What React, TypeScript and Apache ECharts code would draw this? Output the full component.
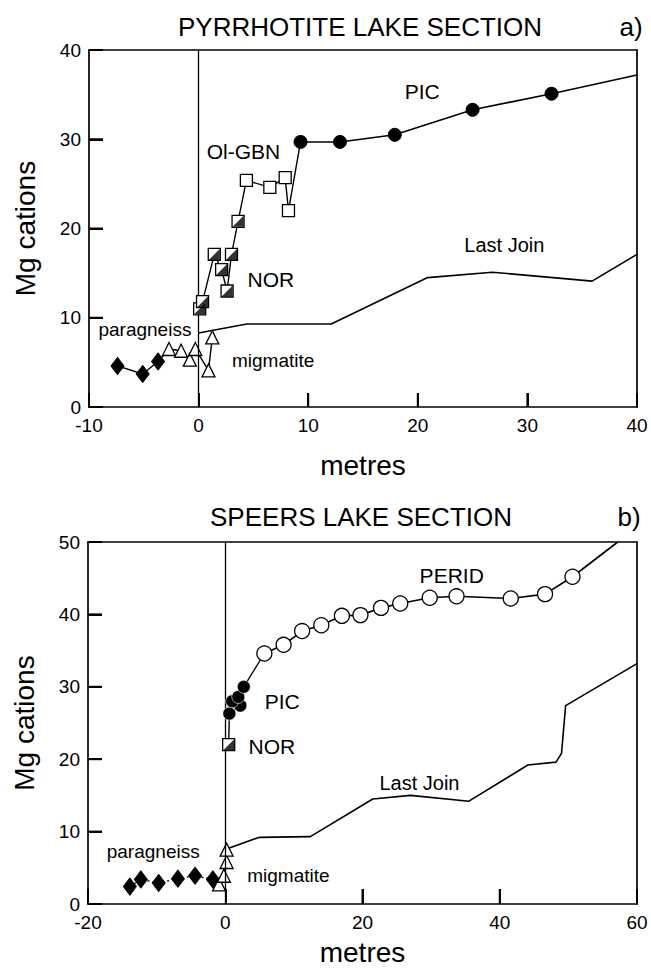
import React, { useEffect, useRef } from "react";
import * as echarts from "echarts";

// ---------- data: (a) Pyrrhotite Lake section ----------
const topParagneiss = [[-7.4, 4.6], [-5.1, 3.7], [-3.7, 5.1]];
const topMigmatite = [[-2.7, 6.5], [-1.6, 6.3], [-0.8, 5.3], [-0.3, 6.5], [0.9, 4.1], [1.25, 7.8]];
const topNor = [[0.1, 11.0], [0.36, 11.8], [1.43, 17.1], [2.1, 15.4], [2.6, 13.0], [3.0, 17.1], [3.6, 20.8]];
const topOlGbn = [[4.36, 25.4], [6.5, 24.6], [7.9, 25.7], [8.2, 22.0]];
const topPic = [[9.3, 29.7], [12.9, 29.7], [17.9, 30.5], [25.0, 33.3], [32.2, 35.1]];
const topPicEnd = [40, 37.2];
const topLastJoin = [[0, 8.3], [4.4, 9.3], [12.1, 9.3], [20.9, 14.5], [26.8, 15.1], [35.9, 14.1], [40, 17.1]];
const topXTicks = [10, 20, 30];
const topYTicks = [10, 20, 30];
const topLabels = [
  { name: "PIC", at: [20.4, 35.3], size: 21 },
  { name: "Ol-GBN", at: [4.1, 28.6], size: 21 },
  { name: "NOR", at: [6.6, 14.3], size: 21 },
  { name: "Last Join", at: [27.9, 18.1], size: 20 },
  { name: "paragneiss", at: [-4.9, 8.7], size: 19 },
  { name: "migmatite", at: [6.8, 5.2], size: 19 },
];

// ---------- data: (b) Speers Lake section ----------
const botParagneiss = [[-13.9, 2.4], [-12.3, 3.4], [-9.7, 2.9], [-6.9, 3.5], [-4.4, 3.9], [-1.8, 3.4]];
const botMigmatite = [[-0.9, 2.7], [-0.2, 3.9], [0.2, 5.8], [0.2, 7.5]];
const botNor = [[0.5, 22.0]];
const botPic = [[0.6, 26.3], [2.2, 27.4], [1.0, 28.0], [1.9, 28.6], [2.7, 30.0]];
const botPerid = [[5.7, 34.6], [8.5, 35.8], [11.2, 37.7], [14.0, 38.5], [17.0, 39.8], [19.7, 39.9], [22.7, 40.9], [25.5, 41.5], [29.8, 42.3], [33.7, 42.5], [41.6, 42.2], [46.6, 42.8], [50.6, 45.2]];
const botPeridEnd = [57.2, 50];
const botLastJoin = [[0.2, 7.6], [4.9, 9.2], [12.4, 9.3], [21.5, 14.5], [27.0, 15.0], [35.5, 14.2], [44.1, 19.2], [48.2, 19.6], [49.0, 20.8], [49.6, 27.4], [60, 33.2]];
const botXTicks = [20, 40];
const botYTicks = [10, 20, 30, 40];
const botLabels = [
  { name: "PERID", at: [33.0, 45.4], size: 21 },
  { name: "PIC", at: [8.3, 28.0], size: 21 },
  { name: "NOR", at: [6.8, 21.8], size: 21 },
  { name: "Last Join", at: [28.3, 16.7], size: 20 },
  { name: "paragneiss", at: [-10.5, 7.2], size: 19 },
  { name: "migmatite", at: [9.2, 3.9], size: 19 },
];

const FONT = "'Liberation Sans', Arial, Helvetica, sans-serif";
const INK = "#000";
const HALF = "path://M1 0L1 1L0 1Z";

function withTail(points: number[][], tail: number[]) {
  return [...points.map((p) => ({ value: p })), { value: tail, symbol: "none" }];
}

function buildSeries(ax: number, d: any) {
  const base = { xAxisIndex: ax, yAxisIndex: ax, silent: true };
  const lineW = 1.4;
  return [
    {
      ...base,
      type: "line",
      name: "Last Join",
      data: d.lastJoin,
      symbol: "none",
      lineStyle: { color: INK, width: 1.6 },
      markLine: {
        silent: true,
        symbol: ["none", "none"],
        label: { show: false },
        lineStyle: { color: INK, width: 1.3, type: "solid" },
        data: [{ xAxis: 0 }],
      },
      z: 2,
    },
    {
      ...base,
      type: "line",
      name: "paragneiss",
      data: withTail(d.para, d.mig[0]),
      symbol: "diamond",
      symbolSize: [13, 17],
      itemStyle: { color: INK, borderColor: INK },
      lineStyle: { color: INK, width: lineW, type: d.paraDash },
      z: 3,
    },
    {
      ...base,
      type: "line",
      name: "migmatite",
      data: d.mig,
      symbol: "triangle",
      symbolSize: 13,
      itemStyle: { color: "#fff", borderColor: INK, borderWidth: 1.3 },
      lineStyle: { color: INK, width: lineW },
      z: 4,
    },
    {
      ...base,
      type: "line",
      name: "NOR",
      data: withTail(d.nor, d.next[0]),
      symbol: "rect",
      symbolSize: 12,
      itemStyle: { color: "#fff", borderColor: INK, borderWidth: 1.3 },
      lineStyle: { color: INK, width: lineW },
      z: 5,
    },
    {
      ...base,
      type: "scatter",
      name: "NOR fill",
      data: d.nor,
      symbol: HALF,
      symbolSize: 11,
      itemStyle: { color: INK },
      z: 6,
    },
    ...d.extra.map((s: any, i: number) => ({ ...base, ...s, z: 7 + i })),
    {
      ...base,
      type: "scatter",
      name: "labels",
      data: d.labels.map((l: any) => ({
        name: l.name,
        value: l.at,
        label: { fontSize: l.size },
      })),
      symbolSize: 1,
      itemStyle: { color: "rgba(0,0,0,0)" },
      label: {
        show: true,
        position: "inside",
        formatter: "{b}",
        color: INK,
        opacity: 1,
        fontFamily: FONT,
        textBorderWidth: 0,
      },
      z: 20,
    },
  ];
}

export default function App() {
  const ref = useRef<HTMLDivElement>(null);
  useEffect(() => {
    document.body.style.margin = "0";
    const chart = echarts.init(ref.current!, null, { renderer: "svg" });

    const topSeries = buildSeries(0, {
      lastJoin: topLastJoin,
      para: topParagneiss,
      paraDash: "solid",
      mig: topMigmatite,
      nor: topNor,
      next: topOlGbn,
      labels: topLabels,
      extra: [
        {
          type: "line",
          name: "Ol-GBN",
          data: withTail(topOlGbn, topPic[0]),
          symbol: "rect",
          symbolSize: 12,
          itemStyle: { color: "#fff", borderColor: INK, borderWidth: 1.3 },
          lineStyle: { color: INK, width: 1.4 },
        },
        {
          type: "line",
          name: "PIC",
          data: withTail(topPic, topPicEnd),
          symbol: "circle",
          symbolSize: 13,
          itemStyle: { color: INK, borderColor: INK },
          lineStyle: { color: INK, width: 1.6 },
        },
      ],
    });

    const botSeries = buildSeries(1, {
      lastJoin: botLastJoin,
      para: botParagneiss,
      paraDash: [2, 3],
      mig: botMigmatite,
      nor: botNor,
      next: botPic,
      labels: botLabels,
      extra: [
        {
          type: "line",
          name: "PIC",
          data: withTail(botPic, botPerid[0]),
          symbol: "circle",
          symbolSize: 13,
          itemStyle: { color: INK, borderColor: "#fff", borderWidth: 0.6 },
          lineStyle: { color: INK, width: 1.4 },
        },
        {
          type: "line",
          name: "PERID",
          data: withTail(botPerid, botPeridEnd),
          symbol: "circle",
          symbolSize: 15,
          itemStyle: { color: "#fff", borderColor: INK, borderWidth: 1.3 },
          lineStyle: { color: INK, width: 1.6 },
        },
      ],
    });

    const lineStyle = { color: INK, width: 1.7 };
    const labelCommon = { color: INK, fontFamily: FONT, fontSize: 19 };
    const nameStyle = { color: INK, fontFamily: FONT, fontSize: 28 };
    const tick = (len: number) => ({ show: true, inside: true, length: len, lineStyle: { color: INK, width: 2 } });
    const mainAxis = (extra: any) => ({
      type: "value",
      axisLine: { show: true, onZero: false, lineStyle },
      splitLine: { show: false },
      nameTextStyle: nameStyle,
      nameLocation: "middle",
      ...extra,
    });
    const frameAxis = (extra: any) => ({
      type: "value",
      axisLine: { show: true, onZero: false, lineStyle },
      axisTick: { show: false },
      axisLabel: { show: false },
      splitLine: { show: false },
      ...extra,
    });

    const titleStyle = (text: string) => ({
      text, fontSize: 26, fontFamily: FONT, fill: INK,
      align: "center", verticalAlign: "middle", textAlign: "center", textVerticalAlign: "middle",
    });

    const option: any = {
      animation: false,
      backgroundColor: "#fff",
      graphic: [
        { id: "t1", type: "text", x: 360, y: 27, style: titleStyle("PYRRHOTITE LAKE SECTION") },
        { id: "t2", type: "text", x: 631, y: 27, style: titleStyle("a)") },
        { id: "t3", type: "text", x: 361, y: 517, style: titleStyle("SPEERS LAKE SECTION") },
        { id: "t4", type: "text", x: 629, y: 517, style: titleStyle("b)") },
      ],
      grid: [
        { left: 89, right: 14, top: 50, height: 357, show: false },
        { left: 88, right: 14, top: 542, height: 362, show: false },
      ],
      xAxis: [
        mainAxis({
          gridIndex: 0, min: -10, max: 40, interval: 10, position: "bottom",
          name: "metres", nameGap: 44,
          axisTick: tick(14),
          axisLabel: { ...labelCommon, margin: 9 },
        }),
        mainAxis({
          gridIndex: 1, min: -20, max: 60, interval: 20, position: "bottom",
          name: "metres", nameGap: 34,
          axisTick: tick(15),
          axisLabel: { ...labelCommon, margin: 9 },
        }),
        frameAxis({ gridIndex: 0, min: -10, max: 40, interval: 10, position: "top" }),
        frameAxis({ gridIndex: 1, min: -20, max: 60, interval: 20, position: "top" }),
      ],
      yAxis: [
        mainAxis({
          gridIndex: 0, min: 0, max: 40, interval: 10, position: "left",
          name: "Mg cations", nameGap: 50,
          axisTick: tick(14),
          axisLabel: { ...labelCommon, margin: 8 },
        }),
        mainAxis({
          gridIndex: 1, min: 0, max: 50, interval: 10, position: "left",
          name: "Mg cations", nameGap: 50,
          axisTick: tick(14),
          axisLabel: { ...labelCommon, margin: 8 },
        }),
        frameAxis({ gridIndex: 0, min: 0, max: 40, interval: 10, position: "right" }),
        frameAxis({ gridIndex: 1, min: 0, max: 50, interval: 10, position: "right" }),
      ],
      series: [...topSeries, ...botSeries],
    };
    chart.setOption(option);

    // inner tick marks placed through the grids' own scales (coincide with the axis ticks)
    const tickEls: any[] = [];
    const addTicks = (gridIndex: number, xTicks: number[], yTicks: number[], xMin: number, yMin: number, lenX: number, lenY: number) => {
      xTicks.forEach((v, i) => {
        const p = chart.convertToPixel({ gridIndex }, [v, yMin]) as number[];
        tickEls.push({ id: `xt${gridIndex}_${i}`, type: "line", shape: { x1: p[0], y1: p[1], x2: p[0], y2: p[1] - lenX }, style: { stroke: INK, lineWidth: 2 } });
      });
      yTicks.forEach((v, i) => {
        const p = chart.convertToPixel({ gridIndex }, [xMin, v]) as number[];
        tickEls.push({ id: `yt${gridIndex}_${i}`, type: "line", shape: { x1: p[0], y1: p[1], x2: p[0] + lenY, y2: p[1] }, style: { stroke: INK, lineWidth: 2 } });
      });
    };
    addTicks(0, topXTicks, topYTicks, -10, 0, 14, 14);
    addTicks(1, botXTicks, botYTicks, -20, 0, 15, 14);
    chart.setOption({ graphic: tickEls });

    return () => chart.dispose();
  }, []);
  return (
    <div
      ref={ref}
      style={{ position: "absolute", left: 0, top: 0, width: 651, height: 969, background: "#fff" }}
    />
  );
}
